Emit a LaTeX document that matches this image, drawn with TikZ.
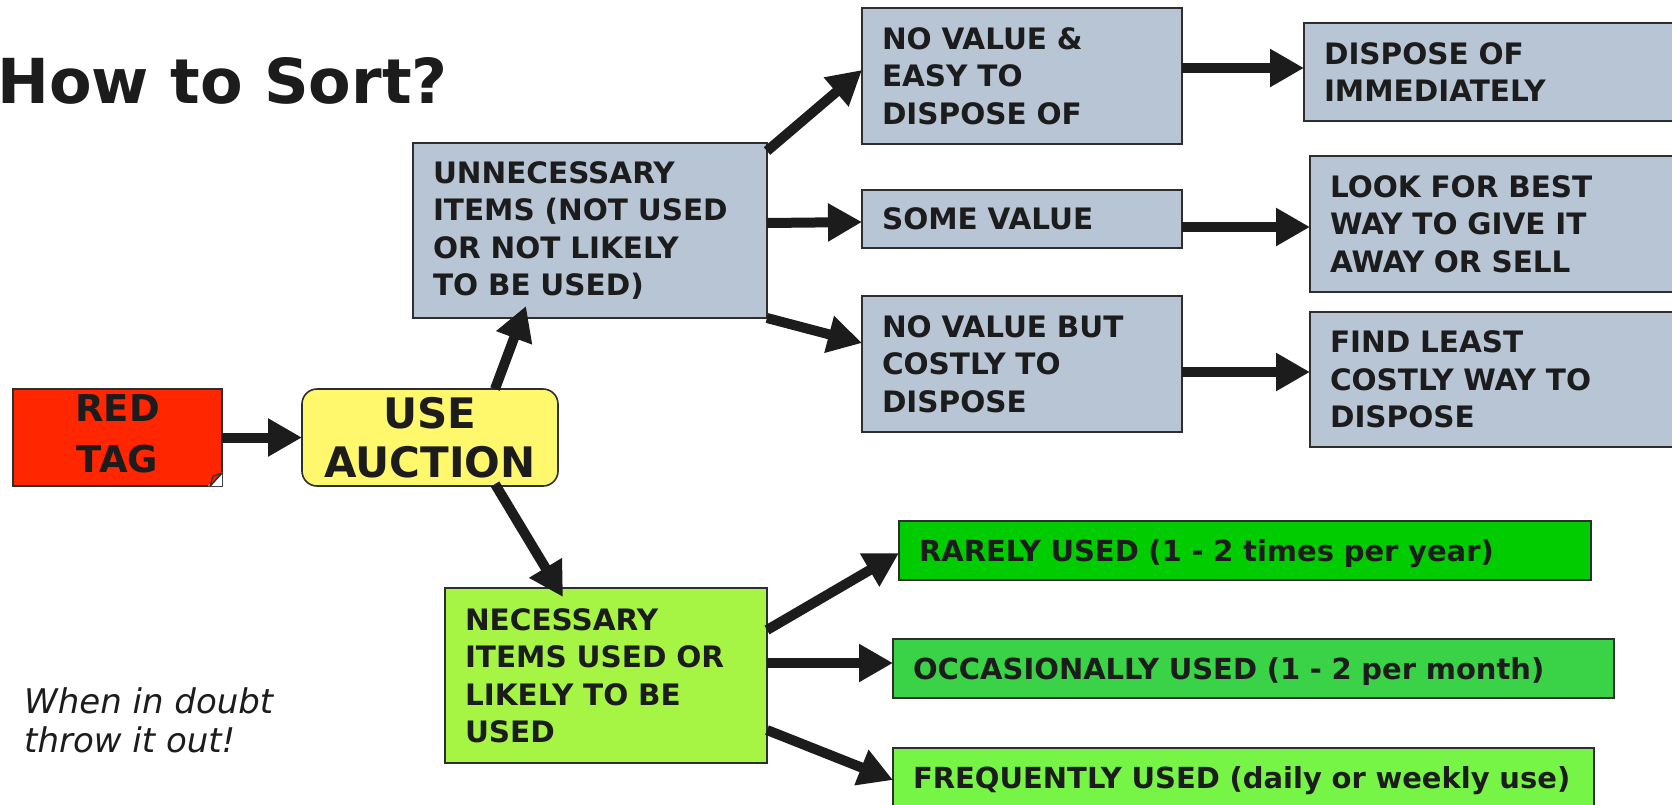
\documentclass[tikz,border=0pt]{standalone}
\usepackage{fontspec}
\setmainfont{DejaVu Sans}
\usetikzlibrary{arrows.meta,calc}
\definecolor{ink}{HTML}{1C1C1C}
\definecolor{edge}{HTML}{2E2E2E}
\definecolor{bluegray}{HTML}{B8C5D5}
\definecolor{tagred}{HTML}{FF2600}
\definecolor{foldred}{HTML}{E02400}
\definecolor{auctionyellow}{HTML}{FFF86C}
\definecolor{necgreen}{HTML}{A6F544}
\definecolor{raregreen}{HTML}{00CC00}
\definecolor{occgreen}{HTML}{3AD247}
\definecolor{freqgreen}{HTML}{76F546}
\tikzset{
  box/.style={draw=edge, line width=1.6pt, fill=bluegray, anchor=north west,
    inner xsep=20pt, inner ysep=0pt, outer sep=0pt, align=left, text=ink,
    font=\bfseries\fontsize{29.5}{37.5}\selectfont},
  wide/.style={box, text depth=0pt, font=\bfseries\fontsize{29}{37.5}\selectfont},
  bigbox/.style={draw=edge, line width=1.6pt, anchor=north west, inner sep=0pt,
    outer sep=0pt, align=center, text=ink},
  flow/.style={draw=ink, line width=10pt,
    -{Triangle[length=34pt,width=36pt]}}
}
\begin{document}
\begin{tikzpicture}[x=1pt,y=-1pt]
\useasboundingbox (0,0) rectangle (1672,804);
\clip (0,0) rectangle (1672,804);

% title and note
\node[anchor=base west, inner sep=0pt, text=ink,
  font=\bfseries\fontsize{62}{70}\selectfont] (title) at (-3,103) {How to Sort?};
\node[anchor=north west, inner sep=0pt, align=left, text=ink,
  font=\itshape\fontsize{34}{39}\selectfont] (note) at (24,687) {When in doubt\\throw it out!};

% red tag and auction
\node[bigbox, fill=tagred, minimum width=209pt, minimum height=97pt, text depth=7pt,
  font=\bfseries\fontsize{37}{51}\selectfont] (red) at (13,389) {RED\\TAG};
\fill[white] (red.south east) -- ($(red.south east)+(0,-14)$) -- ($(red.south east)+(-14,0)$) -- cycle;
\draw[edge, line width=1.6pt, line join=round] ($(red.south east)+(0,-13)$) -- ($(red.south east)+(-12,0)$);
\filldraw[fill=foldred, draw=edge, line width=1pt, line join=round]
  ($(red.south east)+(-12,0)$) -- ($(red.south east)+(-9,-10)$) -- ($(red.south east)+(0,-13)$) -- cycle;

\node[bigbox, fill=auctionyellow, rounded corners=15pt, minimum width=256pt, minimum height=97pt,
  font=\bfseries\fontsize{42}{49}\selectfont] (auction) at (302,389) {USE\\AUCTION};

% blue-gray boxes
\node[box, text width=314pt, minimum height=175pt] (unn) at (413,143)
  {UNNECESSARY\\ITEMS (NOT USED\\OR NOT LIKELY\\TO BE USED)};
\node[box, text width=280pt, minimum height=136pt] (easy) at (862,8)
  {NO VALUE \&\\EASY TO\\DISPOSE OF};
\node[box, text width=280pt, minimum height=58pt] (some) at (862,190)
  {SOME VALUE};
\node[box, text width=280pt, minimum height=136pt] (costly) at (862,296)
  {NO VALUE BUT\\COSTLY TO\\DISPOSE};
\node[box, text width=370pt, minimum height=98pt] (dispose) at (1304,23)
  {DISPOSE OF\\IMMEDIATELY};
\node[box, text width=370pt, minimum height=136pt] (look) at (1310,156)
  {LOOK FOR BEST\\WAY TO GIVE IT\\AWAY OR SELL};
\node[box, text width=370pt, minimum height=135pt] (find) at (1310,312)
  {FIND LEAST\\COSTLY WAY TO\\DISPOSE};

% green boxes
\node[box, fill=necgreen, text width=282pt, minimum height=175pt] (nec) at (445,588)
  {NECESSARY\\ITEMS USED OR\\LIKELY TO BE\\USED};
\node[wide, fill=raregreen, text width=652pt, minimum height=59pt] (rarely) at (899,521)
  {\mbox{RARELY USED (1 - 2 times per year)}};
\node[wide, fill=occgreen, text width=681pt, minimum height=59pt] (occ) at (893,639)
  {\mbox{OCCASIONALLY USED (1 - 2 per month)}};
\node[wide, fill=freqgreen, text width=661pt, minimum height=59pt] (freq) at (893,748)
  {\mbox{FREQUENTLY USED (daily or weekly use)}};

% connectors
\draw[flow] (red.east) -- (auction.west);
\draw[flow] ($(auction.north west)+(193,0)$) -- ($(unn.south west)+(113,-12)$);
\draw[flow] ($(auction.south west)+(193,-2)$) -- ($(nec.north west)+(118,9)$);
\draw[flow] ($(unn.north east)+(0,8)$) -- ($(easy.north west)+(0,62)$);
\draw[flow] ($(unn.north east)+(0,80)$) -- ($(some.north west)+(0,32)$);
\draw[flow] (unn.south east) -- ($(costly.north west)+(0,47)$);
\draw[flow] ($(easy.north east)+(0,60)$) -- ($(dispose.north west)+(0,45)$);
\draw[flow] ($(some.north east)+(0,37)$) -- ($(look.north west)+(0,71)$);
\draw[flow] ($(costly.north east)+(0,76)$) -- ($(find.north west)+(0,60)$);
\draw[flow] ($(nec.north east)+(0,42)$) -- ($(rarely.north west)+(0,32)$);
\draw[flow] ($(nec.north east)+(0,75)$) -- ($(occ.north west)+(0,24)$);
\draw[flow] ($(nec.north east)+(0,142)$) -- ($(freq.north west)+(0,32)$);
\end{tikzpicture}
\end{document}
